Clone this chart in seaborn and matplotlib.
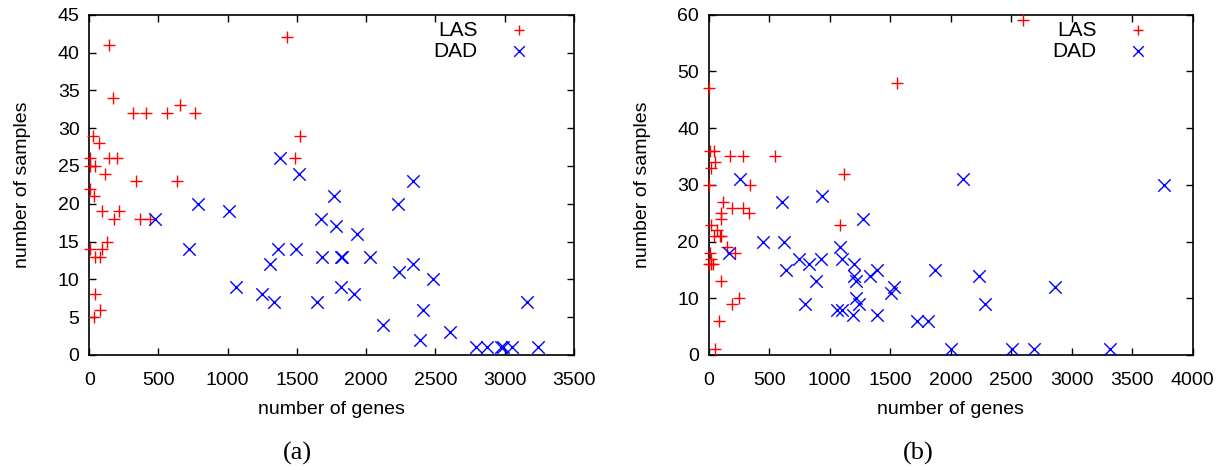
import matplotlib
matplotlib.use("Agg")
import matplotlib.pyplot as plt
import seaborn as sns

# -----------------------------
# Data (a)
# -----------------------------
las_a_genes = [142, 1425, 173, 318, 407, 563, 763, 655, 30, 70, 1520, 5, 142, 198, 1485,
               5, 40, 113, 338, 636, 5, 37, 89, 214, 181, 366, 440, 131, 5, 89,
               41, 77, 41, 77, 34]
las_a_samples = [41, 42, 34, 32, 32, 32, 32, 33, 29, 28, 29, 26, 26, 26, 26,
                 25, 25, 24, 23, 23, 22, 21, 19, 19, 18, 18, 18, 15, 14, 14,
                 13, 13, 8, 6, 5]

dad_a_genes = [1377, 1516, 1770, 783, 1010, 1673, 1785, 722, 1360, 1492, 1304, 1684, 1815,
               1825, 2027, 2340, 2233, 1936, 2239, 2340, 2483, 1815, 1915, 2412, 2123,
               3164, 2603, 2386, 1061, 1249, 1334, 1643, 475, 2790, 2870, 2970, 2990,
               3050, 3240]
dad_a_samples = [26, 24, 21, 20, 19, 18, 17, 14, 14, 14, 12, 13, 13,
                 13, 13, 23, 20, 16, 11, 12, 10, 9, 8, 6, 4,
                 7, 3, 2, 9, 8, 7, 7, 18, 1, 1, 1, 1,
                 1, 1]

# -----------------------------
# Data (b)
# -----------------------------
las_b_genes = [5, 1560, 2595, 10, 40, 175, 285, 550, 50, 20, 1120, 5, 340, 115, 195, 285,
               335, 100, 100, 15, 1085, 65, 95, 40, 105, 150, 215, 10, 20, 5, 35, 15,
               100, 250, 195, 85, 50]
las_b_samples = [47, 48, 59, 36, 36, 35, 35, 35, 34, 33, 32, 30, 30, 27, 26, 26,
                 25, 25, 24, 23, 23, 22, 21, 21, 21, 19, 18, 18, 17, 16, 16, 16,
                 13, 10, 9, 6, 1]

dad_b_genes = [255, 935, 605, 1275, 450, 625, 1085, 170, 750, 925, 1100, 830, 1200, 640,
               1395, 1870, 1200, 1330, 1215, 885, 1535, 1505, 1220, 1245, 800, 1060, 1100,
               1395, 1195, 1725, 1810, 2000, 2105, 3765, 2230, 2280, 2860, 2510, 2690, 3315]
dad_b_samples = [31, 28, 27, 24, 20, 20, 19, 18, 17, 17, 17, 16, 16, 15,
                 15, 15, 14, 14, 13, 13, 12, 11, 10, 9, 9, 8, 8,
                 7, 7, 6, 6, 1, 31, 30, 14, 9, 12, 1, 1, 1]

panels = [
    ("(a)", las_a_genes, las_a_samples, dad_a_genes, dad_a_samples, 3500, 45, 5),
    ("(b)", las_b_genes, las_b_samples, dad_b_genes, dad_b_samples, 4000, 60, 10),
]

sns.set_style("ticks")
plt.rcParams["font.family"] = ["Liberation Sans", "DejaVu Sans"]
plt.rcParams["text.color"] = "black"
plt.rcParams["axes.labelcolor"] = "black"

fig = plt.figure(figsize=(12.31, 4.70), dpi=100)
axes_pos = [[0.0725, 0.2447, 0.3937, 0.724], [0.5757, 0.2447, 0.3932, 0.724]]
caption_x = [0.242, 0.746]

for i, (cap, lg, ls, dg, ds, xmax, ymax, ystep) in enumerate(panels):
    ax = fig.add_axes(axes_pos[i])
    sns.scatterplot(x=lg, y=ls, marker="+", color="red", s=80, linewidth=1.0,
                    label="LAS", ax=ax, clip_on=False, zorder=3)
    sns.scatterplot(x=dg, y=ds, marker="x", color="blue", s=80, linewidth=1.0,
                    label="DAD", ax=ax, clip_on=False, zorder=3)
    ax.set_xlim(0, xmax)
    ax.set_ylim(0, ymax)
    ax.set_xticks(range(0, xmax + 1, 500))
    ax.set_yticks(range(0, ymax + 1, ystep))
    ax.tick_params(direction="in", top=True, right=True, length=5, width=1,
                   labelsize=14, colors="black")
    ax.tick_params(axis="x", pad=12)
    ax.tick_params(axis="y", pad=7)
    for sp in ax.spines.values():
        sp.set_linewidth(1.2)
        sp.set_color("black")
        sp.set_visible(True)
    ax.set_xlabel("number of genes", fontsize=14)
    ax.set_ylabel("number of samples", fontsize=14)
    ax.yaxis.set_label_coords(-0.12, 0.5)
    ax.xaxis.set_label_coords(0.5, -0.135)
    leg = ax.legend(loc="upper right", bbox_to_anchor=(0.93, 0.982), frameon=False,
                    markerfirst=False, fontsize=15, borderpad=0, borderaxespad=0,
                    handletextpad=1.0, labelspacing=0.1, handlelength=2.0,
                    markerscale=0.85)
    for t in leg.get_texts():
        t.set_color("black")
    fig.text(caption_x[i], 0.036, cap, ha="center", va="center", fontsize=19,
             family=["Liberation Serif", "DejaVu Serif"])

fig.savefig("out.png", dpi=100)
plt.close()
